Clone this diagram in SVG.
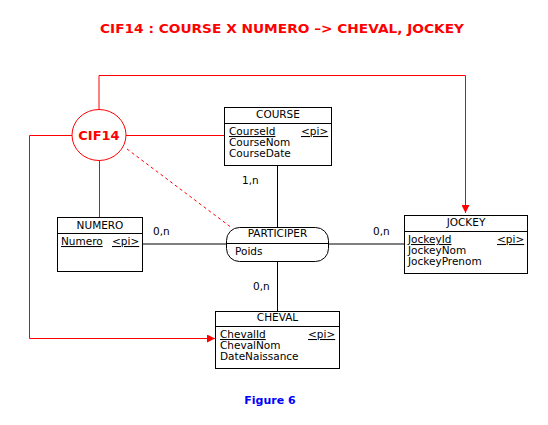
<svg xmlns="http://www.w3.org/2000/svg" width="548" height="425" viewBox="0 0 548 425">
<defs>
<style>
.box{fill:#fff;stroke:#000;stroke-width:1}
.sep{stroke:#000;stroke-width:1}
.ln{stroke:#000;stroke-width:1;fill:none}
.rl{stroke:#f00;stroke-width:1;fill:none}
.t{font-family:"DejaVu Sans",Verdana,sans-serif;font-size:10.5px;fill:#000}
.c{text-anchor:middle}
.u{text-decoration:underline}
</style>
<marker id="ar" viewBox="0 0 8 8" refX="8" refY="4" markerWidth="8" markerHeight="8" markerUnits="userSpaceOnUse" orient="auto">
<path d="M0,0 L8,4 L0,8 Z" fill="#f00"/>
</marker>
</defs>
<rect width="548" height="425" fill="#fff"/>
<text x="282" y="33" text-anchor="middle" textLength="364" lengthAdjust="spacingAndGlyphs" font-family="DejaVu Sans,Verdana,sans-serif" font-weight="bold" font-size="13" fill="#f00">CIF14 : COURSE X NUMERO –&gt; CHEVAL, JOCKEY</text>
<g id="connectors">
<line class="ln" x1="142" y1="244" x2="226" y2="244"/>
<line class="ln" x1="329" y1="244" x2="404" y2="244"/>
<line class="ln" x1="277.5" y1="165" x2="277.5" y2="227"/>
<line class="ln" x1="277.5" y1="261" x2="277.5" y2="311"/>
<text class="t" x="242" y="184">1,n</text>
<text class="t" x="153" y="235">0,n</text>
<text class="t" x="373" y="235">0,n</text>
<text class="t" x="253" y="290">0,n</text>
<polyline class="rl" points="99,109 99,75.5 465.5,75.5 465.5,213" marker-end="url(#ar)"/>
<polyline class="rl" points="72,135.5 29.5,135.5 29.5,338.5 215,338.5" marker-end="url(#ar)"/>
<line class="rl" x1="126" y1="135.5" x2="224" y2="135.5"/>
<line class="rl" x1="99.5" y1="161" x2="99.5" y2="217"/>
<line class="rl" x1="127" y1="149" x2="232" y2="228" stroke-dasharray="3,3"/>
</g>
<g id="CIF14">
<ellipse cx="99" cy="135" rx="27" ry="25.5" fill="#fff" stroke="#f00" stroke-width="1"/>
<text x="99" y="140" text-anchor="middle" font-family="DejaVu Sans,Verdana,sans-serif" font-weight="bold" font-size="13" fill="#f00">CIF14</text>
</g>
<g id="COURSE">
<rect class="box" x="224.5" y="107.5" width="107" height="58"/>
<line class="sep" x1="224.5" y1="123.5" x2="331.5" y2="123.5"/>
<text class="t c" x="278" y="118">COURSE</text>
<text class="t u" x="229" y="135">CourseId</text>
<text class="t u" x="301" y="135">&lt;pi&gt;</text>
<text class="t" x="229" y="146">CourseNom</text>
<text class="t" x="229" y="157">CourseDate</text>
</g>
<g id="NUMERO">
<rect class="box" x="57.5" y="217.5" width="85" height="54"/>
<line class="sep" x1="57.5" y1="233.5" x2="142.5" y2="233.5"/>
<text class="t c" x="100" y="228.5">NUMERO</text>
<text class="t u" x="61" y="245">Numero</text>
<text class="t u" x="112" y="245">&lt;pi&gt;</text>
</g>
<g id="PARTICIPER">
<rect class="box" x="226.5" y="227.5" width="102" height="34" rx="13" ry="13"/>
<line class="sep" x1="226.5" y1="243.5" x2="328.5" y2="243.5"/>
<text class="t c" x="277.5" y="237">PARTICIPER</text>
<text class="t" x="235" y="254.5">Poids</text>
</g>
<g id="JOCKEY">
<rect class="box" x="404.5" y="215.5" width="123" height="58"/>
<line class="sep" x1="404.5" y1="231.5" x2="527.5" y2="231.5"/>
<text class="t c" x="466" y="226">JOCKEY</text>
<text class="t u" x="408" y="243">JockeyId</text>
<text class="t u" x="497" y="243">&lt;pi&gt;</text>
<text class="t" x="408" y="254">JockeyNom</text>
<text class="t" x="408" y="265">JockeyPrenom</text>
</g>
<g id="CHEVAL">
<rect class="box" x="215.5" y="311.5" width="124" height="57"/>
<line class="sep" x1="215.5" y1="326.5" x2="339.5" y2="326.5"/>
<text class="t c" x="277.5" y="320.5">CHEVAL</text>
<text class="t u" x="220" y="338">ChevalId</text>
<text class="t u" x="308" y="338">&lt;pi&gt;</text>
<text class="t" x="220" y="349">ChevalNom</text>
<text class="t" x="220" y="360">DateNaissance</text>
</g>
<text x="270" y="403.5" text-anchor="middle" font-family="DejaVu Sans,Verdana,sans-serif" font-weight="bold" font-size="11" fill="#00f">Figure 6</text>
</svg>
